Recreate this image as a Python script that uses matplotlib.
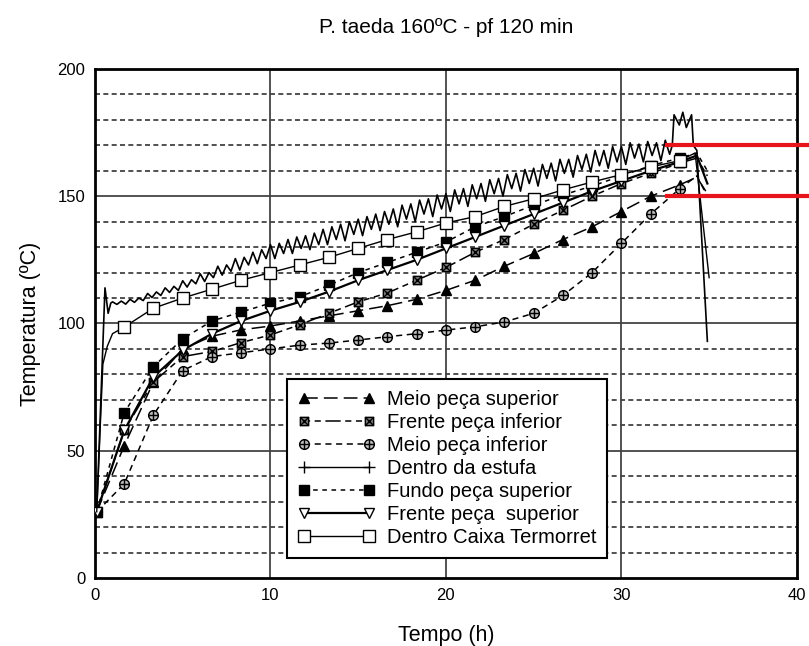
import numpy as np
import matplotlib
matplotlib.use('Agg')
import matplotlib.pyplot as plt
from matplotlib.path import Path

plt.rcParams['font.family'] = ['Liberation Sans', 'DejaVu Sans']

# tempos de leitura (h) -- marcadores a cada 100 min
t_marks = [0.1, 1.67, 3.33, 5.0, 6.67, 8.33, 10.0, 11.67, 13.33, 15.0, 16.67,
           18.33, 20.0, 21.67, 23.33, 25.0, 26.67, 28.33, 30.0, 31.67, 33.33]
t_end = [34.3, 34.9]

meio_sup = [26, 52, 77, 90, 95, 97.5, 99, 101, 103, 105, 107, 109.5, 113, 117,
            122.5, 127.5, 133, 138, 144, 150, 154.5, 157.5, 151]
frente_inf = [26, 58, 77, 87, 89, 92.5, 95.5, 99.5, 104, 108.5, 112, 117, 122,
              128, 133, 139, 144.5, 150, 155, 159, 163, 165, 158]
meio_inf = [26, 37, 64, 81.5, 87, 88.5, 90, 91.5, 92.3, 93.5, 94.8, 96, 97.4,
            98.7, 100.6, 104, 111, 120, 131.5, 143, 153, 158, 150]
fundo_sup = [26, 65, 83, 94, 101, 104.5, 108, 110.5, 115, 120, 124, 128, 132,
             138, 142, 146.5, 150.5, 154, 158, 162, 165, 167, 160]
frente_sup = [26, 58, 79, 89.5, 96, 101, 105, 108.5, 112.5, 117, 121, 125,
              129.5, 134, 138.5, 143, 147.5, 152, 156, 160, 163.5, 166, 155]

# caixa termorret (subida rapida no inicio)
t_caixa = [0.1, 0.45, 0.7, 1.0, 1.67, 3.33, 5.0, 6.67, 8.33, 10.0, 11.67, 13.33,
           15.0, 16.67, 18.33, 20.0, 21.67, 23.33, 25.0, 26.67, 28.33, 30.0,
           31.67, 33.33, 34.2, 35.0]
caixa = [26, 84, 91, 96, 98.6, 106, 110, 113.5, 117, 120, 123, 126, 129.5, 133,
         136, 139.5, 142, 146, 149, 152.5, 155.6, 158.5, 161.5, 164, 167, 118]

# dentro da estufa (leitura a cada 15 min, com oscilacao)
t_estufa_ini = [0.1, 0.57, 0.75, 0.9]
estufa_ini = [26, 114, 104, 108]
estufa_mid = [
    108.5, 107.5, 108.8, 107.6,
    109.5, 108.3, 110, 109,
    111.8, 110.2, 112.4, 111,
    114, 112.2, 114.6, 113,
    116.8, 114.3, 117.2, 115.6,
    119.5, 116.5, 120, 118,
    122.5, 119, 123, 120.5,
    125.5, 121, 126, 123,
    128, 123.5, 129, 125.5,
    131, 125.5, 131.5, 127.5,
    133, 127.5, 134, 129.5,
    134.5, 129, 135.5, 131,
    137, 131, 138, 133,
    139, 132.5, 140, 135,
    141, 134.5, 142, 137,
    143, 136.5, 144, 139,
    145, 138, 146.5, 141,
    147, 140, 148.5, 143,
    149, 142, 150.5, 145,
    151, 144, 152.5, 147,
    153, 146, 154.5, 149,
    155, 148, 156.5, 151,
    157, 150, 158.5, 153,
    159, 152, 160.5, 155,
    161, 154, 162.5, 157,
    163, 156, 164.5, 159,
    164.5, 157.5, 166, 160.5,
    166.5, 159.5, 168, 162,
    168, 161, 169.5, 163.5,
    169.5, 162.5, 171, 165,
    170.5, 163.5, 171.5, 166,
    171, 164, 172, 166.5,
]
t_estufa_fim = [32.9, 33.0, 33.3, 33.5, 33.7, 34.0, 34.1, 34.3, 34.9]
estufa_fim = [170, 182, 178, 183, 177, 182, 170, 168, 93]

t_estufa = t_estufa_ini + list(np.arange(1.0, 32.76, 0.25)) + t_estufa_fim
estufa = estufa_ini + estufa_mid + estufa_fim

labels = ['Meio peça superior', 'Frente peça inferior', 'Meio peça inferior',
          'Dentro da estufa', 'Fundo peça superior', 'Frente peça  superior',
          'Dentro Caixa Termorret']

# marcadores especiais: quadrado com X e circulo com cruz
sq_x = Path([(-1, -1), (1, -1), (1, 1), (-1, 1), (-1, -1), (1, 1), (-1, 1), (1, -1)],
            [Path.MOVETO, Path.LINETO, Path.LINETO, Path.LINETO, Path.LINETO,
             Path.LINETO, Path.MOVETO, Path.LINETO])
circ = Path.unit_circle()
circ_plus = Path(np.vstack([circ.vertices, [[-1, 0], [1, 0], [0, -1], [0, 1]]]),
                 np.concatenate([circ.codes, [Path.MOVETO, Path.LINETO, Path.MOVETO, Path.LINETO]]))

fig = plt.figure(figsize=(8.09, 6.46), dpi=100)
ax = fig.add_axes([0.1174, 0.1053, 0.8676, 0.7879])

t_all = t_marks + t_end
mk = list(range(len(t_marks)))

ax.plot(t_all, meio_sup, color='black', lw=1.1, dashes=(9, 4), marker='^', ms=7,
        markevery=mk, mfc='black', label=labels[0], zorder=5)
ax.plot(t_all, frente_inf, color='black', lw=1.1, dashes=(4, 3, 4, 3, 10, 3),
        marker=sq_x, ms=6, markevery=mk, mfc='#777777', mec='black', mew=1.0,
        label=labels[1], zorder=5)
ax.plot(t_all, meio_inf, color='black', lw=1.1, dashes=(4, 3), marker=circ_plus,
        ms=7, markevery=mk, mfc='#bbbbbb', mec='black', mew=1.0, label=labels[2],
        zorder=5)
ax.plot(t_estufa, estufa, color='black', lw=1.2, zorder=4)
ax.plot([], [], color='black', lw=1.0, marker='+', ms=8, label=labels[3])
ax.plot(t_all, fundo_sup, color='black', lw=1.1, dashes=(3, 3), marker='s', ms=7,
        markevery=mk, mfc='black', label=labels[4], zorder=5)
ax.plot(t_all, frente_sup, color='black', lw=1.6, marker='v', ms=7,
        markevery=mk, mfc='white', mec='black', label=labels[5], zorder=5)
ax.plot(t_caixa, caixa, color='black', lw=1.0, marker='s', ms=8,
        markevery=list(range(4, len(t_caixa) - 2)), mfc='white', mec='black',
        label=labels[6], zorder=5)

# linhas vermelhas de referencia
ax.plot([32.6, 40.8], [170, 170], color='#e8141b', lw=3, clip_on=False, zorder=6)
ax.plot([32.6, 40.8], [150, 150], color='#e8141b', lw=3, clip_on=False, zorder=6)

# grade
for y in range(10, 200, 10):
    if y % 50 == 0:
        ax.axhline(y, color='#444444', lw=1.3, zorder=1)
    else:
        ax.axhline(y, color='#333333', lw=1.2, dashes=(3, 2), zorder=1)
for x in [10, 20, 30]:
    ax.axvline(x, color='#444444', lw=1.3, zorder=1)

ax.set_xlim(0, 40)
ax.set_ylim(0, 200)
ax.set_xticks([0, 10, 20, 30, 40])
ax.set_yticks([0, 50, 100, 150, 200])
ax.tick_params(length=0, labelsize=12, pad=7)
for s in ax.spines.values():
    s.set_linewidth(2)

ax.set_title('P. taeda 160ºC - pf 120 min', fontsize=15, pad=26)
ax.set_xlabel('Tempo (h)', fontsize=15.5, labelpad=16)
ax.set_ylabel('Temperatura (ºC)', fontsize=15.5, labelpad=12)

leg = ax.legend(loc='lower left', bbox_to_anchor=(0.2735, 0.039), numpoints=2,
                handlelength=3.8, fontsize=14.5, labelspacing=0.2, fancybox=False,
                framealpha=1, edgecolor='black', borderpad=0.55, handletextpad=0.6,
                borderaxespad=0)
leg.get_frame().set_linewidth(1.5)
leg.set_zorder(10)

fig.savefig('out.png', dpi=100)
